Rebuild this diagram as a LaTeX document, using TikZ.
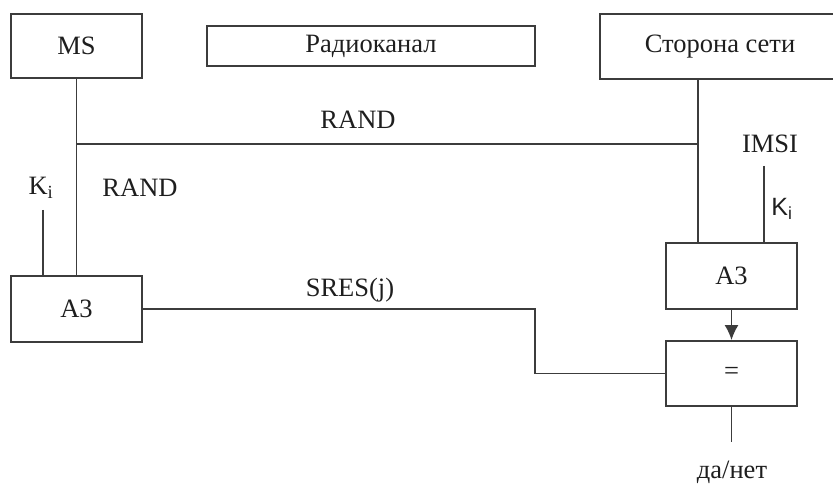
\documentclass[tikz,border=0pt]{standalone}
\usepackage{fontspec}
\setmainfont{Liberation Serif}
\newfontfamily\labelsans{Liberation Sans}
\usetikzlibrary{arrows.meta}
\definecolor{wire}{HTML}{3C3C3C}
\definecolor{ink}{HTML}{1E1E1E}
\tikzset{
  blockbox/.style={draw=wire, line width=1.8bp, rectangle, inner sep=0pt,
    text=ink, minimum width=#1},
  wireline/.style={draw=wire, line width=1.8bp},
  lbl/.style={text=ink, inner sep=0pt},
}
\begin{document}
\begin{tikzpicture}[x=1bp, y=-1bp, font=\fontsize{26.5bp}{32bp}\selectfont]
\useasboundingbox (0,0) rectangle (833,490);
\clip (0,0) rectangle (833,490);

% blocks
\node[blockbox=131bp, minimum height=64bp] (ms) at (76.5,46) {MS};
\node[blockbox=328bp, minimum height=40bp] (radio) at (371,46) {Радиоканал};
\node[blockbox=240bp, minimum height=65bp] (net) at (720,46.5) {Сторона сети};
\node[blockbox=131bp, minimum height=66bp] (a3l) at (76.5,309) {A3};
\node[blockbox=131bp, minimum height=66bp] (a3r) at (731.5,276) {A3};
\node[blockbox=131bp, minimum height=65bp] (eq) at (731.5,373.5) {=};

% reference points of the wires
\coordinate (nl) at (698,0);
\coordinate (jm) at (76.5,144);
\coordinate (kr) at (764,166);
\coordinate (kl) at (43,210);
\coordinate (bend) at (535,0);
\coordinate (out) at (731.5,442);

% wires
\draw[wireline] (ms.south) -- (a3l.north);
\draw[wireline] (net.south -| nl) -- (a3r.north -| nl);
\draw[wireline] (jm) -- (jm -| nl);
\draw[wireline] (kr) -- (kr |- a3r.north);
\draw[wireline] (kl) -- (kl |- a3l.north);
\draw[wireline] (a3l.east) -- (a3l.east -| bend) -- (eq.west -| bend) -- (eq.west);
\draw[wireline, -{Latex[length=15bp, width=14bp]}] (a3r.south) -- (eq.north);
\draw[wireline] (eq.south) -- (out);

% labels
\node[lbl] (lrand1) at (358,120) {RAND};
\node[lbl] (lrand2) at (140,188) {RAND};
\node[lbl] (lkl) at (41,188) {K\textsubscript{i}};
\node[lbl] (limsi) at (770,144) {IMSI};
\node[lbl, font=\labelsans\fontsize{25bp}{30bp}\selectfont] (lkr) at (782,209) {K\textsubscript{i}};
\node[lbl] (lsres) at (350,290) {SRES(j)};
\node[lbl] (lres) at (732,472) {да/нет};
\end{tikzpicture}
\end{document}
